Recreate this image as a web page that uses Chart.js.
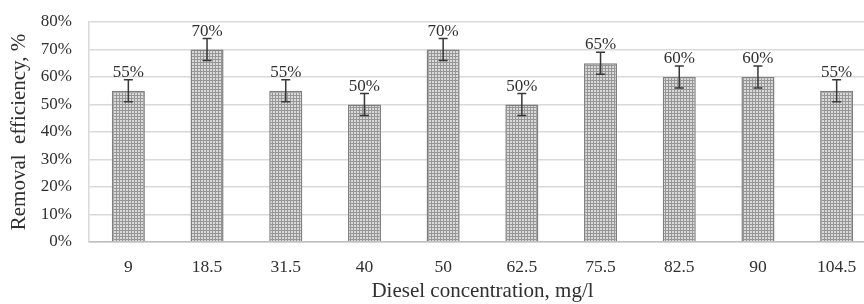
<!DOCTYPE html>
<html lang="en">
<head>
    <meta charset="UTF-8">
    <title>Removal efficiency vs diesel concentration</title>
    <script src="https://cdn.jsdelivr.net/npm/chart.js"></script>
    <style>
        body, html {
            margin: 0;
            background: #fff;
            overflow: hidden;
        }
        .chart-container {
            position: relative;
            width: 876px;
            height: 304px;
        }
    </style>
</head>
<body>
    <div class="chart-container">
        <canvas id="chart1"></canvas>
    </div>

    <script>
        // data
        var concentrations = ['9', '18.5', '31.5', '40', '50', '62.5', '75.5', '82.5', '90', '104.5'];
        var efficiency = [55, 70, 55, 50, 70, 50, 65, 60, 60, 55];
        var errors = [4, 4, 4, 4, 4, 4, 4, 4, 4, 4];
        var yTicks = [0, 10, 20, 30, 40, 50, 60, 70, 80];

        var serif = '"Liberation Serif", "Times New Roman", serif';
        var textColor = '#303030';

        // dotted fill like the original
        function makePattern() {
            var c = document.createElement('canvas');
            c.width = 3;
            c.height = 3;
            var g = c.getContext('2d');
            g.fillStyle = '#969696';
            g.fillRect(0, 0, 3, 3);
            g.fillStyle = '#dadada';
            g.fillRect(0, 0, 2, 2);
            return g.createPattern(c, 'repeat');
        }

        // error bars + value labels drawn with the chart's own scales
        var errorBars = {
            id: 'errorBars',
            afterDatasetsDraw: function(chart) {
                var ctx = chart.ctx;
                var meta = chart.getDatasetMeta(0);
                var y = chart.scales.y;
                ctx.save();
                meta.data.forEach(function(bar, i) {
                    var v = efficiency[i];
                    var top = y.getPixelForValue(v + errors[i]);
                    var bot = y.getPixelForValue(v - errors[i]);
                    ctx.strokeStyle = '#383838';
                    ctx.lineWidth = 1.5;
                    ctx.beginPath();
                    ctx.moveTo(bar.x, top);
                    ctx.lineTo(bar.x, bot);
                    ctx.moveTo(bar.x - 4.5, top);
                    ctx.lineTo(bar.x + 4.5, top);
                    ctx.moveTo(bar.x - 4.5, bot);
                    ctx.lineTo(bar.x + 4.5, bot);
                    ctx.stroke();

                    ctx.fillStyle = textColor;
                    ctx.font = '17px ' + serif;
                    ctx.textAlign = 'center';
                    ctx.textBaseline = 'alphabetic';
                    ctx.fillText(v + '%', bar.x, top - 3);
                });
                ctx.restore();
            }
        };

        window.onload = function() {
            var ctx1 = document.getElementById('chart1').getContext('2d');
            var chart1 = new Chart(ctx1, {
                type: 'bar',
                data: {
                    labels: concentrations,
                    datasets: [{
                        label: 'Removal efficiency',
                        data: efficiency,
                        backgroundColor: makePattern(),
                        borderColor: '#808080',
                        borderWidth: 1.5,
                        barPercentage: 0.42,
                        categoryPercentage: 1
                    }]
                },
                options: {
                    responsive: true,
                    maintainAspectRatio: false,
                    animation: false,
                    layout: {
                        padding: { top: 22, left: 7, right: 0, bottom: 0 }
                    },
                    plugins: {
                        legend: { display: false },
                        tooltip: { enabled: false }
                    },
                    scales: {
                        x: {
                            grid: { display: false, drawTicks: false },
                            border: { color: '#bfbfbf', width: 1.5 },
                            ticks: {
                                padding: 15,
                                color: textColor,
                                font: { family: serif, size: 17.5 }
                            },
                            title: {
                                display: true,
                                text: 'Diesel concentration, mg/l',
                                color: textColor,
                                font: { family: serif, size: 21 },
                                padding: 0
                            },
                            afterFit: function(scale) { scale.height = 62; }
                        },
                        y: {
                            min: 0,
                            max: 80,
                            afterBuildTicks: function(scale) {
                                scale.ticks = yTicks.map(function(v) { return { value: v }; });
                            },
                            grid: {
                                color: '#d9d9d9',
                                lineWidth: 1.5,
                                drawTicks: true,
                                tickLength: 14,
                                tickColor: 'rgba(0,0,0,0)'
                            },
                            border: { color: '#d9d9d9', width: 1.5 },
                            ticks: {
                                padding: 3,
                                color: textColor,
                                font: { family: serif, size: 17 },
                                callback: function(v) { return v + '%'; }
                            },
                            title: {
                                display: true,
                                text: 'Removal  efficiency, %',
                                color: textColor,
                                font: { family: serif, size: 21 },
                                padding: 0
                            },
                            afterFit: function(scale) { scale.width = 82; }
                        }
                    }
                },
                plugins: [errorBars]
            });
        };
    </script>
</body>
</html>
